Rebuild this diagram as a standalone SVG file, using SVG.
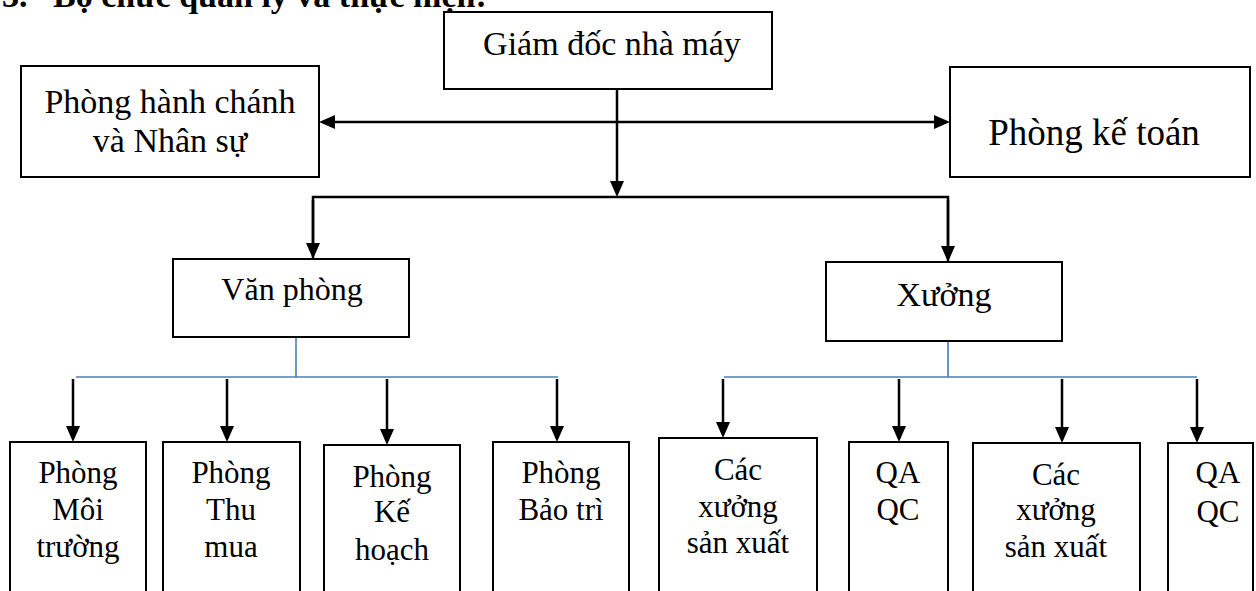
<svg xmlns="http://www.w3.org/2000/svg" width="1256" height="591" viewBox="0 0 1256 591">
  <style>
    text { font-family: "Liberation Serif", "Times New Roman", serif; fill: #000; text-anchor: middle; }
    .t37 { font-size: 37px; }
    .t34 { font-size: 34px; }
    .t32 { font-size: 32px; }
    .t31 { font-size: 31px; }
    .heading { font-size: 34px; font-weight: bold; text-anchor: start; }
    .box { fill: #fff; stroke: #000; stroke-width: 2; }
    .link { fill: none; stroke: #000; stroke-width: 2.5; }
    .arrow { marker-end: url(#ah); }
    .both { marker-start: url(#ah); marker-end: url(#ah); }
    .tie { fill: none; stroke: #4A7EBB; stroke-width: 1.6; }
  </style>
  <defs>
    <marker id="ah" markerUnits="userSpaceOnUse" markerWidth="16" markerHeight="16" viewBox="0 0 16 16" refX="8" refY="8" orient="auto-start-reverse">
      <path d="M0,1 L16,8 L0,15 Z" fill="#000"/>
    </marker>
  </defs>

  <!-- section heading (top edge cut by the page) -->
  <text class="heading" y="7"><tspan x="2">3.</tspan><tspan x="53">Bộ chức quản lý và thực hiện:</tspan></text>

  <!-- connectors -->
  <g id="connectors">
    <!-- director down to the split line -->
    <path class="link arrow" d="M617,89 V189"/>
    <!-- two-way link to the side offices -->
    <path class="link both" d="M327,122 H942"/>
    <!-- split line to the two branches -->
    <path class="link" d="M313,259 V197 H948 V262"/>
    <path class="link arrow" d="M313,200 V251"/>
    <path class="link arrow" d="M948,200 V254"/>
    <!-- office branch -->
    <path class="tie" d="M296,337 V377 M76,377 H558"/>
    <path class="link arrow" d="M73,379 V434"/>
    <path class="link arrow" d="M227,379 V434"/>
    <path class="link arrow" d="M387,379 V437"/>
    <path class="link arrow" d="M557,379 V434"/>
    <!-- workshop branch -->
    <path class="tie" d="M948,341 V377 M724,377 H1197"/>
    <path class="link arrow" d="M723,379 V430"/>
    <path class="link arrow" d="M899,379 V434"/>
    <path class="link arrow" d="M1062,379 V435"/>
    <path class="link arrow" d="M1197,379 V435"/>
  </g>

  <g id="giam-doc">
    <rect class="box" x="444" y="12" width="328" height="77"/>
    <text class="t34" x="612" y="55">Giám đốc nhà máy</text>
  </g>

  <g id="hanh-chanh">
    <rect class="box" x="21" y="66" width="298" height="111"/>
    <text class="t34" x="170" y="113">Phòng hành chánh</text>
    <text class="t34" x="170" y="152">và Nhân sự</text>
  </g>

  <g id="ke-toan">
    <rect class="box" x="950" y="67" width="300" height="110"/>
    <text class="t37" x="1094" y="145">Phòng kế toán</text>
  </g>

  <g id="van-phong">
    <rect class="box" x="173" y="259" width="236" height="78"/>
    <text class="t32" x="292" y="300">Văn phòng</text>
  </g>

  <g id="xuong">
    <rect class="box" x="826" y="262" width="236" height="79"/>
    <text class="t34" x="944" y="306">Xưởng</text>
  </g>

  <g id="moi-truong">
    <rect class="box" x="10" y="442" width="136" height="160"/>
    <text class="t31" x="78" y="483">Phòng</text>
    <text class="t31" x="78" y="520">Môi</text>
    <text class="t31" x="78" y="557">trường</text>
  </g>

  <g id="thu-mua">
    <rect class="box" x="163" y="442" width="137" height="160"/>
    <text class="t31" x="231" y="483">Phòng</text>
    <text class="t31" x="231" y="520">Thu</text>
    <text class="t31" x="231" y="557">mua</text>
  </g>

  <g id="ke-hoach">
    <rect class="box" x="324" y="445" width="136" height="160"/>
    <text class="t31" x="392" y="487">Phòng</text>
    <text class="t31" x="392" y="522">Kế</text>
    <text class="t31" x="392" y="560">hoạch</text>
  </g>

  <g id="bao-tri">
    <rect class="box" x="493" y="442" width="136" height="160"/>
    <text class="t31" x="561" y="483">Phòng</text>
    <text class="t31" x="561" y="520">Bảo trì</text>
  </g>

  <g id="xuong-sx-1">
    <rect class="box" x="659" y="438" width="158" height="160"/>
    <text class="t31" x="738" y="480">Các</text>
    <text class="t31" x="738" y="517">xưởng</text>
    <text class="t31" x="738" y="553">sản xuất</text>
  </g>

  <g id="qaqc-1">
    <rect class="box" x="849" y="442" width="99" height="160"/>
    <text class="t31" x="898" y="483">QA</text>
    <text class="t31" x="898" y="520">QC</text>
  </g>

  <g id="xuong-sx-2">
    <rect class="box" x="973" y="443" width="167" height="160"/>
    <text class="t31" x="1056" y="485">Các</text>
    <text class="t31" x="1056" y="520">xưởng</text>
    <text class="t31" x="1056" y="557">sản xuất</text>
  </g>

  <g id="qaqc-2">
    <rect class="box" x="1168" y="443" width="85" height="160"/>
    <text class="t31" x="1218" y="483">QA</text>
    <text class="t31" x="1218" y="522">QC</text>
  </g>
</svg>
